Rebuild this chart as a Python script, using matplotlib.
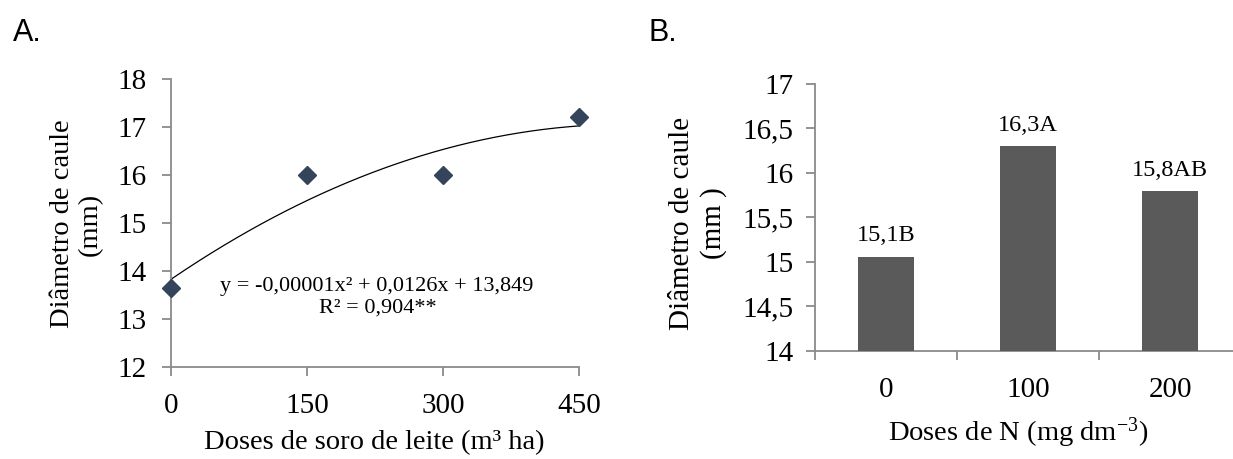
import matplotlib
matplotlib.use("Agg")
import matplotlib.pyplot as plt
import numpy as np
from matplotlib.ticker import FuncFormatter

plt.rcParams['font.family'] = ['Liberation Serif', 'DejaVu Serif']
plt.rcParams['mathtext.fontset'] = 'custom'
plt.rcParams['mathtext.rm'] = 'Liberation Serif'
plt.rcParams['mathtext.it'] = 'Liberation Serif:italic'

# painel A: soro de leite
doses_soro = [0, 150, 300, 450]
diam_soro = [13.65, 16.0, 16.0, 17.2]
eq_text = "y = -0,00001x² + 0,0126x + 13,849"
r2_text = "R² = 0,904**"

# painel B: doses de N
doses_n = ["0", "100", "200"]
diam_n = [15.06, 16.3, 15.8]
rotulos_n = ["15,1B", "16,3A", "15,8AB"]

W, H = 1233, 459
AXIS = '#8a8a8a'
TICK_FS = 21
LAB_FS = 20.5

fig = plt.figure(figsize=(W / 100, H / 100), dpi=100)


def box(l, t, r, b):
    return [l / W, 1 - b / H, (r - l) / W, (b - t) / H]


def estilo(ax):
    for s in ('top', 'right'):
        ax.spines[s].set_visible(False)
    for s in ('left', 'bottom'):
        ax.spines[s].set_color(AXIS)
        ax.spines[s].set_linewidth(1.3)
    ax.tick_params(which='both', direction='out', color=AXIS, width=1.3,
                   length=6.5, labelsize=TICK_FS)


# --- A ---
axA = fig.add_axes(box(171, 79, 579, 367))
estilo(axA)
axA.set_xlim(0, 450)
axA.set_ylim(12, 18)
axA.set_xticks(doses_soro)
axA.set_yticks(range(12, 19))
axA.tick_params(axis='y', pad=11)
axA.tick_params(axis='x', pad=12)

coef = np.polyfit(doses_soro, diam_soro, 2)
xx = np.linspace(0, 450, 200)
axA.plot(xx, np.polyval(coef, xx), color='black', lw=0.9, clip_on=False)
axA.plot(doses_soro, diam_soro, ls='none', marker='D', ms=9.5,
         color='#34445a', clip_on=False, zorder=5)
axA.text(227, 13.67, eq_text, ha='center', va='center', fontsize=16)
axA.text(228, 13.23, r2_text, ha='center', va='center', fontsize=16)

fig.text(374 / W, 1 - 443 / H, "Doses de soro de leite (m³ ha)",
         ha='center', va='center', fontsize=LAB_FS)
fig.text(76 / W, 1 - 224 / H, "Diâmetro de caule\n(mm)", rotation=90,
         ha='center', va='center', multialignment='center',
         fontsize=LAB_FS, linespacing=1.15)
fig.text(13 / W, 1 - 41 / H, "A.", family='Liberation Sans', fontsize=22,
         ha='left', va='baseline')

# --- B ---
axB = fig.add_axes(box(815, 84, 1241, 351))
estilo(axB)
pos = np.arange(len(doses_n))
axB.bar(pos, diam_n, width=0.4, bottom=0, color='#5a5a5a', zorder=3)
axB.set_xlim(-0.5, 2.5)
axB.set_ylim(14, 17)
axB.set_yticks(np.arange(14, 17.01, 0.5))
axB.yaxis.set_major_formatter(FuncFormatter(
    lambda v, p: f"{v:g}".replace('.', ',')))
axB.set_xticks(np.arange(-0.5, 3.0, 1.0))
axB.set_xticklabels([])
axB.set_xticks(pos, minor=True)
axB.set_xticklabels(doses_n, minor=True)
axB.tick_params(axis='x', which='minor', length=0, pad=19)
axB.tick_params(axis='y', pad=9)
for x, v, t in zip(pos, diam_n, rotulos_n):
    axB.annotate(t, (x, v), xytext=(0, 11), textcoords='offset points',
                 ha='center', va='baseline', fontsize=17.5)

fig.text(1018 / W, 1 - 433 / H, "Doses de N (mg dm$^{-3}$)",
         ha='center', va='center', fontsize=LAB_FS)
fig.text(698 / W, 1 - 223 / H, "Diâmetro de caule\n(mm )", rotation=90,
         ha='center', va='center', multialignment='center',
         fontsize=LAB_FS + 0.5, linespacing=1.2)
fig.text(649 / W, 1 - 41 / H, "B.", family='Liberation Sans', fontsize=22,
         ha='left', va='baseline')

fig.savefig("out.png", dpi=100)
